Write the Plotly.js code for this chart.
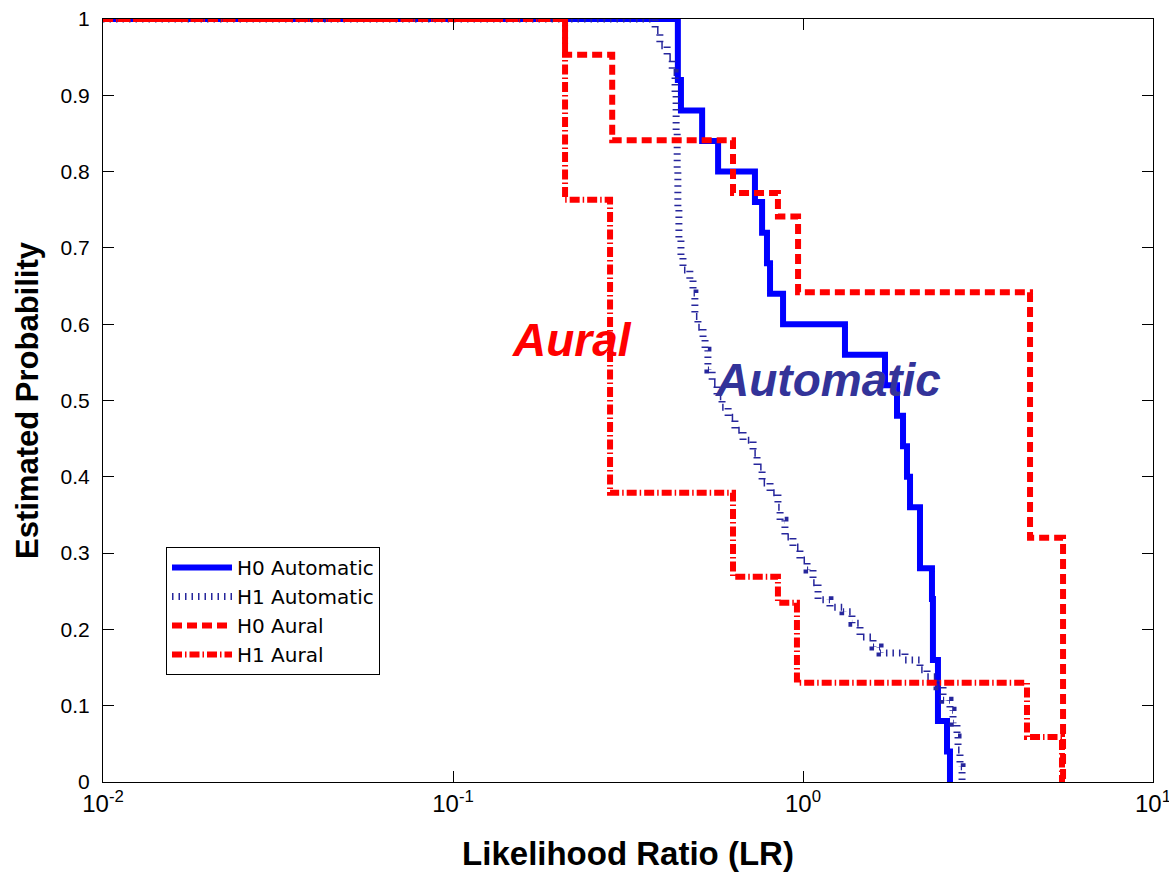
<!DOCTYPE html>
<html>
<head>
<meta charset="utf-8">
<script src="https://cdn.plot.ly/plotly-3.0.1.min.js"></script>
<style>
  html, body { margin: 0; padding: 0; background: #ffffff; }
  #chart { width: 1169px; height: 874px; }
</style>
</head>
<body>
<div id="chart"></div>
<script>
// Estimated probability that the likelihood ratio exceeds a given value,
// for H0 / H1 under automatic and aural comparison (step curves).

// H0 Automatic: LR where each step falls, and the probability after the fall
const h0AutoLR   = [0.01, 0.439, 0.448, 0.515, 0.572, 0.729, 0.764, 0.789, 0.805, 0.877, 1.318,
                    1.715, 1.856, 1.931, 1.982, 2.022, 2.159, 2.336, 2.351, 2.430, 2.579, 2.630];
const h0AutoProb = [1, 0.92, 0.88, 0.84, 0.80, 0.76, 0.72, 0.68, 0.64, 0.60, 0.56,
                    0.52, 0.48, 0.44, 0.40, 0.36, 0.28, 0.24, 0.16, 0.08, 0.04, 0];

// H1 Automatic
const h1AutoLR   = [0.01, 0.378, 0.390, 0.409, 0.423, 0.431, 0.434, 0.437, 0.439, 0.442, 0.448,
                    0.454, 0.475, 0.485, 0.491, 0.501, 0.518, 0.525, 0.535, 0.550, 0.568,
                    0.587, 0.611, 0.639, 0.674, 0.720, 0.739, 0.764, 0.805, 0.848, 0.860,
                    0.888, 0.936, 0.980, 1.027, 1.068, 1.104, 1.194, 1.301, 1.380, 1.455,
                    1.585, 1.660, 1.956, 2.159, 2.261, 2.415, 2.512, 2.630, 2.683, 2.754,
                    2.773, 2.809, 2.847];
const h1AutoProb = [1, 0.985, 0.965, 0.95, 0.93, 0.90, 0.85, 0.80, 0.75, 0.71, 0.69,
                    0.671, 0.658, 0.641, 0.61, 0.596, 0.58, 0.566, 0.54, 0.523, 0.505,
                    0.491, 0.478, 0.461, 0.448, 0.431, 0.413, 0.392, 0.379, 0.36, 0.343,
                    0.321, 0.308, 0.291, 0.278, 0.261, 0.239, 0.229, 0.223, 0.208, 0.19,
                    0.177, 0.169, 0.16, 0.147, 0.138, 0.125, 0.107, 0.094, 0.077, 0.059,
                    0.042, 0.02, 0];

// H0 Aural
const h0AuralLR   = [0.01, 0.209, 0.285, 0.631, 0.848, 0.968, 4.453, 5.533];
const h0AuralProb = [1, 0.953, 0.841, 0.772, 0.741, 0.642, 0.32, 0];

// H1 Aural
const h1AuralLR   = [0.01, 0.209, 0.281, 0.631, 0.848, 0.961, 4.365, 5.495];
const h1AuralProb = [1, 0.763, 0.379, 0.269, 0.235, 0.13, 0.059, 0];

const seriesNames = ['H0 Automatic', 'H1 Automatic', 'H0 Aural', 'H1 Aural'];

// decade ticks (labelled) and the 2..9 sub-decade ticks (unlabelled)
const xTickVals  = [0.01, 0.1, 1, 10];
const xTickText  = ['10<sup>-2</sup>', '10<sup>-1</sup>', '10<sup>0</sup>', '10<sup>1</sup>'];
const xMinorVals = [0.02, 0.03, 0.04, 0.05, 0.06, 0.07, 0.08, 0.09,
                    0.2, 0.3, 0.4, 0.5, 0.6, 0.7, 0.8, 0.9,
                    2, 3, 4, 5, 6, 7, 8, 9];

const FONT = 'Liberation Sans, Arial, sans-serif';
const LEGEND_FONT = 'DejaVu Sans, Liberation Sans, sans-serif';

function stepTrace(x, y, name, line) {
  return { x: x, y: y, name: name, type: 'scatter', mode: 'lines',
           line: Object.assign({ shape: 'hv' }, line), hoverinfo: 'x+y+name' };
}

const traces = [
  stepTrace(h0AutoLR,  h0AutoProb,  seriesNames[0], { color: '#0000ff', width: 6 }),
  stepTrace(h1AutoLR,  h1AutoProb,  seriesNames[1], { color: '#26269c', width: 7, dash: '1.5px,5px' }),
  stepTrace(h0AuralLR, h0AuralProb, seriesNames[2], { color: '#ff0000', width: 6, dash: '10px,5px' }),
  stepTrace(h1AuralLR, h1AuralProb, seriesNames[3], { color: '#ff0000', width: 6, dash: '10px,3px,1.5px,3px' })
];

const layout = {
  width: 1169, height: 874,
  margin: { l: 103, r: 16, t: 19, b: 92 },
  paper_bgcolor: '#ffffff', plot_bgcolor: '#ffffff',
  font: { family: FONT, color: '#000000', size: 20 },
  showlegend: true,
  legend: {
    x: 0.06, y: 0.308, xanchor: 'left', yanchor: 'top',
    bgcolor: '#ffffff', bordercolor: '#000000', borderwidth: 1,
    font: { family: LEGEND_FONT, size: 20, color: '#000000' },
    itemwidth: 60, tracegroupgap: 0
  },
  xaxis: {
    type: 'log', range: [-2, 1],
    tickmode: 'array', tickvals: xTickVals, ticktext: xTickText,
    ticklabeloverflow: 'allow',
    ticks: 'inside', ticklen: 11, tickcolor: '#000000', tickwidth: 1,
    showline: true, linecolor: '#000000', linewidth: 1, mirror: 'ticks',
    showgrid: false, zeroline: false,
    tickfont: { family: FONT, size: 24, color: '#000000' },
    title: { text: '<b>Likelihood Ratio (LR)</b>', standoff: 26,
             font: { family: FONT, size: 33, color: '#000000' } }
  },
  xaxis2: {
    type: 'log', range: [-2, 1], overlaying: 'x', anchor: 'y', side: 'bottom',
    tickmode: 'array', tickvals: xMinorVals, showticklabels: false,
    ticks: 'inside', ticklen: 6, tickcolor: '#000000', tickwidth: 1,
    showline: false, mirror: 'ticks', showgrid: false, zeroline: false
  },
  yaxis: {
    range: [0, 1], dtick: 0.1, tick0: 0,
    ticks: 'inside', ticklen: 11, tickcolor: '#000000', tickwidth: 1,
    showline: true, linecolor: '#000000', linewidth: 1, mirror: 'ticks',
    showgrid: false, zeroline: false,
    ticklabelstandoff: 8,
    tickfont: { family: FONT, size: 21, color: '#000000' },
    title: { text: '<b>Estimated Probability</b>', standoff: 12,
             font: { family: FONT, size: 31, color: '#000000' } }
  },
  annotations: [
    { text: '<b><i>Aural</i></b>', xref: 'x', yref: 'y', x: -0.66, y: 0.579,
      showarrow: false, font: { family: FONT, size: 46, color: '#ff0000' } },
    { text: '<b><i>Automatic</i></b>', xref: 'x', yref: 'y', x: 0.071, y: 0.527,
      showarrow: false, font: { family: FONT, size: 46, color: '#333399' } }
  ]
};

Plotly.newPlot('chart', traces, layout, { displayModeBar: false, staticPlot: true });
</script>
</body>
</html>
